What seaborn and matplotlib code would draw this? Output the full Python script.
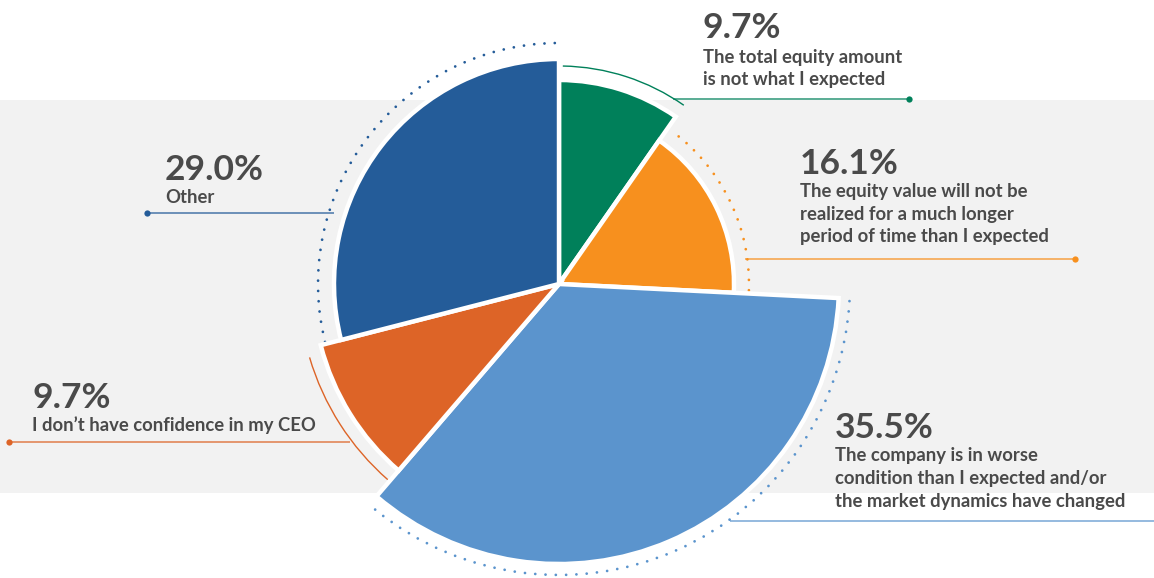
import numpy as np
import matplotlib
matplotlib.use("Agg")
import matplotlib.pyplot as plt
from matplotlib.patches import Arc
import seaborn as sns

# Survey answers: why the equity offer fell short
reasons = [
    ["The total equity amount", "is not what I expected"],
    ["The equity value will not be", "realized for a much longer", "period of time than I expected"],
    ["The company is in worse", "condition than I expected and/or", "the market dynamics have changed"],
    ["I don\u2019t have confidence in my CEO"],
    ["Other"],
]
shares = [9.7, 16.1, 35.5, 9.7, 29.0]
colors = ["#00805A", "#F7901E", "#5B94CD", "#DD6427", "#245C99"]

W, H = 1154, 578
sns.set_theme(style="white")
plt.rcParams["font.family"] = ["Lato", "DejaVu Sans"]
TEXT = "#4A4A4A"
BAND = "#F2F2F2"


def Y(y):
    """Convert a top-down pixel row to the upward data axis."""
    return H - y


fig = plt.figure(figsize=(W / 100, H / 100), dpi=100)
ax = fig.add_axes([0, 0, 1, 1])

# light grey band behind the chart
ax.axhspan(Y(493), Y(100), color=BAND, zorder=0, lw=0)

cx, cy = 559, Y(284)
radii = [204, 175, 280, 246, 225]

# each slice gets its own radius: draw the full pie once per radius and keep one wedge
for i in range(len(shares)):
    wedges, _ = ax.pie(shares, radius=radii[i], center=(cx, cy), startangle=90,
                       counterclock=False, colors=colors,
                       wedgeprops=dict(edgecolor="white", linewidth=3.2))
    for j, w in enumerate(wedges):
        if j != i:
            w.remove()
        else:
            w.set_zorder(2)

cum = np.concatenate([[0], np.cumsum(shares)])
a_start = 90 - 3.6 * cum[:-1]
a_end = 90 - 3.6 * cum[1:]


def arc(i, r, t1, t2, dotted):
    kw = dict(color=colors[i], zorder=1.5)
    if dotted:
        a = Arc((cx, cy), 2 * r, 2 * r, theta1=t1, theta2=t2, lw=2.0,
                linestyle=(0, (0.01, 3.7)), **kw)
        a.set_capstyle("round")
    else:
        a = Arc((cx, cy), 2 * r, 2 * r, theta1=t1, theta2=t2, lw=1.0, **kw)
    ax.add_patch(a)


# decorative rings around the slices
arc(0, 218, a_end[0], a_start[0] - 1, False)
arc(1, 190, a_end[1] + 1, a_start[1] - 2, True)
arc(2, 291, a_end[2] + 1.5, a_start[2], True)
arc(3, 260, a_end[3] + 2, a_start[3] - 0.5, False)
arc(4, 241, a_end[4] % 360 + 1, a_start[4] % 360 + 0.5, True)

# label layout: text left x, percent baseline, line baselines, leader row, leader span, dot end
layout = [
    dict(x=703, pct=38, lines=[63, 85], ly=99, lx=(673, 909), dot=909),
    dict(x=800, pct=174, lines=[197, 220, 242], ly=259, lx=(745, 1075), dot=1075),
    dict(x=835, pct=438, lines=[461, 484, 507], ly=521, lx=(730, 1154), dot=None),
    dict(x=32, pct=408, lines=[431], ly=442, lx=(9, 350), dot=9),
    dict(x=165, pct=180, lines=[203], ly=213, lx=(147, 334), dot=147),
]

for i, (share, text, lay) in enumerate(zip(shares, reasons, layout)):
    ax.text(lay["x"], Y(lay["pct"]), f"{share:.1f}%", fontsize=25.5, fontweight="bold",
            color=TEXT, va="baseline", ha="left", zorder=5)
    for line, yb in zip(text, lay["lines"]):
        ax.text(lay["x"], Y(yb), line, fontsize=13.3, fontweight="bold",
                color=TEXT, va="baseline", ha="left", zorder=5)
    ax.plot(lay["lx"], [Y(lay["ly"])] * 2, color=colors[i], lw=1.3, alpha=0.7,
            solid_capstyle="butt", zorder=3)
    if lay["dot"] is not None:
        ax.plot([lay["dot"]], [Y(lay["ly"])], marker="o", ms=4.5, color=colors[i],
                mec="none", zorder=4)

ax.set_xlim(0, W)
ax.set_ylim(0, H)
ax.set_aspect("auto")
ax.axis("off")
fig.patch.set_facecolor("white")
fig.savefig("out.png", dpi=100, facecolor="white")
